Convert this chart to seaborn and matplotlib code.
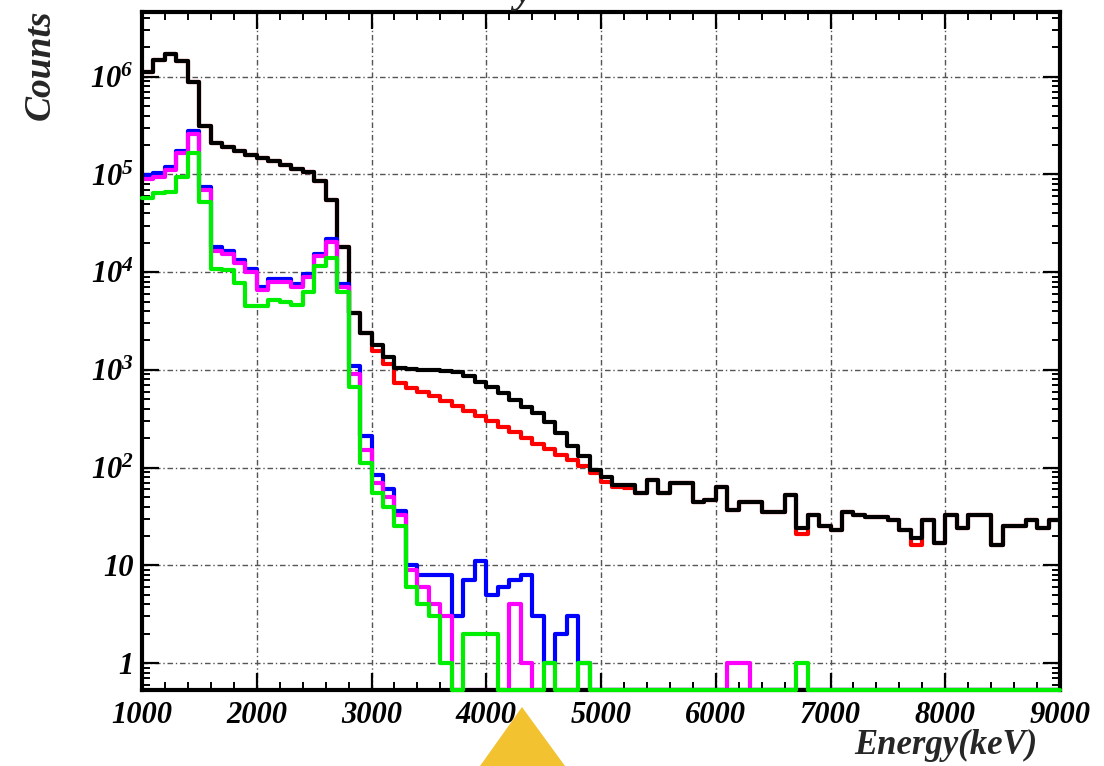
import numpy as np
import pandas as pd
import matplotlib
matplotlib.use("Agg")
import matplotlib.pyplot as plt
import seaborn as sns
from matplotlib.patches import Polygon
from matplotlib.ticker import FixedLocator, LogLocator, MultipleLocator, NullFormatter

# 100 keV bins, 1000 - 9000 keV
bin_edges = np.arange(1000, 9001, 100)

# counts per bin
counts_black = [
    1.12e6, 1.5e6, 1.72e6, 1.45e6, 8.8e5, 3.1e5, 2.1e5, 1.9e5, 1.75e5, 1.6e5,
    1.48e5, 1.36e5, 1.25e5, 1.15e5, 1.05e5, 8.5e4, 5.5e4, 1.8e4, 3.8e3, 2.4e3,
    1.8e3, 1.37e3, 1.05e3, 1.02e3, 1.0e3, 1.0e3, 980, 950, 860, 760,
    670, 580, 490, 420, 360, 290, 225, 165, 130, 95,
    80, 66, 66, 55, 75, 55, 70, 70, 44, 47,
    63, 37, 45, 45, 35, 35, 52, 24, 33, 25,
    23, 35, 33, 31, 31, 29, 23, 19, 29, 17,
    33, 24, 33, 33, 16, 25, 25, 29, 24, 29,
]
counts_red = [
    1.12e6, 1.5e6, 1.72e6, 1.45e6, 8.8e5, 3.1e5, 2.1e5, 1.9e5, 1.75e5, 1.6e5,
    1.48e5, 1.36e5, 1.25e5, 1.15e5, 1.05e5, 8.5e4, 5.5e4, 1.8e4, 3.8e3, 2.4e3,
    1.55e3, 1.15e3, 740, 660, 600, 540, 480, 430, 380, 335,
    300, 260, 230, 200, 175, 155, 135, 120, 105, 88,
    72, 63, 62, 55, 75, 55, 70, 70, 44, 47,
    63, 37, 45, 45, 35, 35, 52, 21, 33, 25,
    23, 35, 33, 31, 31, 29, 23, 16, 29, 17,
    33, 24, 33, 33, 16, 25, 25, 29, 24, 29,
]
counts_blue = [
    9.8e4, 1.03e5, 1.2e5, 1.75e5, 2.8e5, 7.5e4, 1.8e4, 1.65e4, 1.33e4, 1.07e4,
    7.1e3, 8.5e3, 8.5e3, 7.6e3, 9.5e3, 1.55e4, 2.2e4, 7.5e3, 1.1e3, 210,
    85, 60, 36, 10, 8, 8, 8, 3, 7, 11,
    5, 6, 7, 8, 3, 1, 2, 3, 1, 0,
    0, 0, 0, 0, 0, 0, 0, 0, 0, 0,
    0, 0, 0, 0, 0, 0, 0, 0, 0, 0,
    0, 0, 0, 0, 0, 0, 0, 0, 0, 0,
    0, 0, 0, 0, 0, 0, 0, 0, 0, 0,
]
counts_magenta = [
    9.0e4, 9.5e4, 1.1e5, 1.65e5, 2.6e5, 7.0e4, 1.65e4, 1.55e4, 1.25e4, 1.0e4,
    6.6e3, 8.0e3, 8.0e3, 7.1e3, 8.9e3, 1.45e4, 2.05e4, 7.0e3, 900, 150,
    70, 50, 33, 9, 6, 4, 3, 0, 0, 0,
    0, 0, 4, 1, 0, 0, 0, 0, 0, 0,
    0, 0, 0, 0, 0, 0, 0, 0, 0, 0,
    0, 1, 1, 0, 0, 0, 0, 0, 0, 0,
    0, 0, 0, 0, 0, 0, 0, 0, 0, 0,
    0, 0, 0, 0, 0, 0, 0, 0, 0, 0,
]
counts_green = [
    5.8e4, 6.4e4, 6.6e4, 9.5e4, 1.67e5, 5.2e4, 1.07e4, 1.05e4, 7.8e3, 4.5e3,
    4.5e3, 5.2e3, 5.0e3, 4.6e3, 6.2e3, 1.15e4, 1.4e4, 6.2e3, 670, 112,
    55, 40, 25, 6, 4, 3, 1, 0, 2, 2,
    2, 0, 0, 0, 0, 1, 0, 0, 1, 0,
    0, 0, 0, 0, 0, 0, 0, 0, 0, 0,
    0, 0, 0, 0, 0, 0, 0, 1, 0, 0,
    0, 0, 0, 0, 0, 0, 0, 0, 0, 0,
    0, 0, 0, 0, 0, 0, 0, 0, 0, 0,
]

y_ticks = [1, 10, 1e2, 1e3, 1e4, 1e5, 1e6]
y_tick_labels = ["1", "10", "$10^{2}$", "$10^{3}$", "$10^{4}$", "$10^{5}$", "$10^{6}$"]
x_ticks = list(range(1000, 9001, 1000))
x_tick_labels = [str(t) for t in x_ticks]

y_min, y_max = 0.53, 4.6e6

sns.set_style("ticks")
plt.rcParams.update({
    "font.family": ["Liberation Serif", "DejaVu Serif"],
    "font.style": "italic",
    "font.weight": "bold",
    "mathtext.fontset": "custom",
    "mathtext.rm": "Liberation Serif:italic:bold",
    "mathtext.it": "Liberation Serif:italic:bold",
    "mathtext.bf": "Liberation Serif:italic:bold",
    "mathtext.default": "it",
})

W, H = 1104, 766
fig = plt.figure(figsize=(W / 100, H / 100), dpi=100)
ax = fig.add_axes([142 / W, 1 - 690 / H, (1060 - 142) / W, (690 - 12) / H])

series = [
    (counts_red, "#ff0000", 2.0, True),
    (counts_black, "#000000", 2.1, True),
    (counts_blue, "#0000ff", 2.2, True),
    (counts_magenta, "#ff00ff", 2.3, True),
    (counts_green, "#00ee00", 3.0, False),
]
for vals, col, z, clip in series:
    vals = np.asarray(vals, dtype=float)
    # empty bins sit on the bottom of the frame, as ROOT draws them
    shown = np.where(vals > 0, vals, y_min)
    df = pd.DataFrame({"energy": bin_edges, "counts": np.append(shown, shown[-1])})
    sns.lineplot(data=df, x="energy", y="counts", color=col, linewidth=3.0,
                 drawstyle="steps-post", estimator=None, sort=False, ax=ax,
                 zorder=z, clip_on=clip)

ax.set_yscale("log")
ax.set_xlim(1000, 9000)
ax.set_ylim(y_min, y_max)

ax.xaxis.set_major_locator(FixedLocator(x_ticks))
ax.set_xticklabels(x_tick_labels)
ax.xaxis.set_minor_locator(MultipleLocator(200))
ax.yaxis.set_major_locator(FixedLocator(y_ticks))
ax.set_yticklabels(y_tick_labels)
ax.yaxis.set_minor_locator(LogLocator(base=10, subs=np.arange(2, 10)))
ax.yaxis.set_minor_formatter(NullFormatter())

ax.tick_params(which="both", direction="in", top=True, right=True, colors="black")
ax.tick_params(which="major", length=12, width=1.6)
ax.tick_params(which="minor", length=6, width=1.4)
ax.tick_params(axis="x", which="major", labelsize=22, pad=8)
ax.tick_params(axis="y", which="major", labelsize=22, pad=6)
for s in ax.spines.values():
    s.set_linewidth(3)
    s.set_color("black")

ax.grid(True, which="major", color="#555555", linestyle=(0, (4, 2, 1, 2)), linewidth=1)
ax.set_xlabel("")
ax.set_ylabel("")

fig.text(40 / W, 1 - 10 / H, "Counts", rotation=90, ha="center", va="top", fontsize=27)
fig.text(1037 / W, 1 - 745 / H, "Energy(keV)", ha="right", va="center", fontsize=25)
# clipped title descender at the top edge
fig.text(523 / W, 1 - 2 / H, "y", ha="center", va="baseline", fontsize=30)

# yellow pointer at the bottom
tri = Polygon([[480 / W, 0], [565 / W, 0], [522 / W, 1 - 707 / H]], closed=True,
              transform=fig.transFigure, facecolor="#f2c230", edgecolor="none", zorder=10)
fig.patches.append(tri)

fig.savefig("out.png", dpi=100)
